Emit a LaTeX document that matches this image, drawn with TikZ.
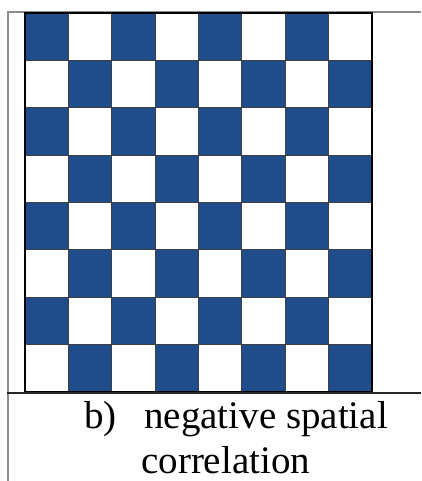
\documentclass[tikz,border=0pt]{standalone}
\usepackage{fontspec}
\setmainfont{Liberation Serif}
\definecolor{cellblue}{RGB}{31,76,138}
\definecolor{frame}{RGB}{140,140,140}
\tikzset{
  cellline/.style={draw=black!75,line width=0.8pt},
  lbl/.style={inner sep=0pt,font=\fontsize{39}{47}\selectfont}
}
\begin{document}
\begin{tikzpicture}[x=1pt,y=-1pt]
\useasboundingbox (0,0) rectangle (421,481);
% outer frame lines
\draw[frame,line width=2pt] (7.5,12) -- (7.5,481);
\draw[frame,line width=1.5pt] (7,12) -- (421,12);
% checkerboard
\def\bx{25}\def\by{13}\def\cw{43.375}\def\ch{47.375}
\foreach \r in {0,...,7}{
  \foreach \c in {0,...,7}{
    \pgfmathtruncatemacro{\parity}{mod(\r+\c,2)}
    \ifnum\parity=0
      \fill[cellblue] (\bx+\c*\cw,\by+\r*\ch) rectangle ++(\cw,\ch);
    \fi
  }
}
\foreach \i in {1,...,7}{
  \draw[cellline] (\bx+\i*\cw,\by) -- (\bx+\i*\cw,\by+8*\ch);
  \draw[cellline] (\bx,\by+\i*\ch) -- (\bx+8*\cw,\by+\i*\ch);
}
\draw[black,line width=1.6pt] (\bx,\by) rectangle (\bx+8*\cw,\by+8*\ch);
% bottom separator
\draw[black!85,line width=2pt] (7,393) -- (421,393);
% caption
\node[lbl,anchor=base west] (lb) at (84,428) {b)};
\node[lbl,anchor=base west] (l1) at (144,428) {negative spatial};
\node[lbl,anchor=base west] (l2) at (141,473) {correlation};
\end{tikzpicture}
\end{document}
